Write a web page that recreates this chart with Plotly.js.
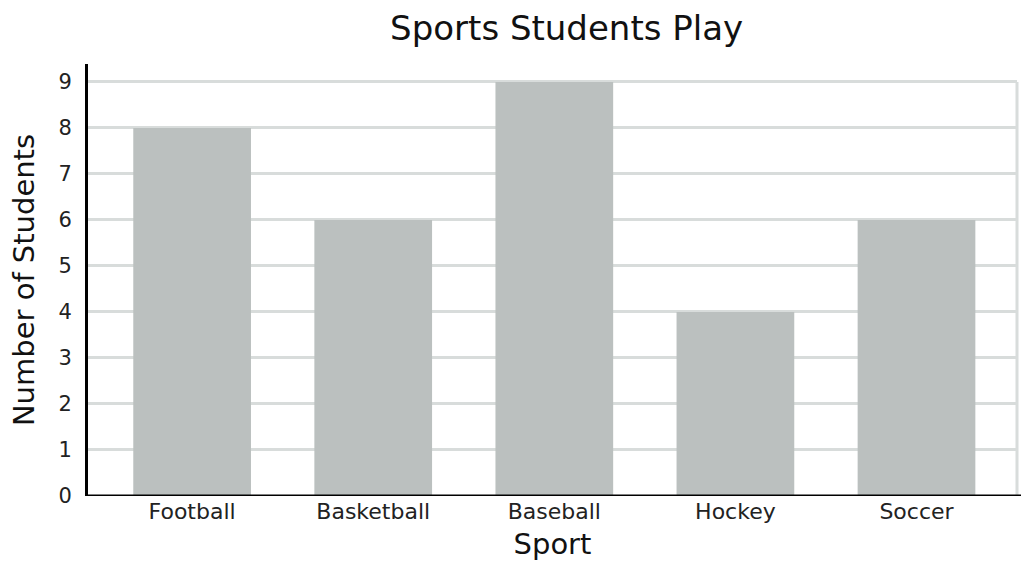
<!DOCTYPE html>
<html>
<head>
<meta charset="utf-8">
<script src="https://cdn.plot.ly/plotly-3.0.1.min.js"></script>
<style>html,body{margin:0;padding:0;background:#fff;}#chart{width:1021px;height:569px;}</style>
</head>
<body>
<div id="chart"></div>
<script>
const categories = ["Football", "Basketball", "Baseball", "Hockey", "Soccer"];
const students = [8, 6, 9, 4, 6];
const yTicks = [0, 1, 2, 3, 4, 5, 6, 7, 8, 9];

const FONT = "DejaVu Sans, sans-serif";

const data = [{
  type: "bar",
  x: categories,
  y: students,
  marker: {color: "#bbc0bf"},
  width: 0.65,
  hoverinfo: "x+y"
}];

const layout = {
  width: 1021,
  height: 569,
  margin: {l: 88, r: 4, t: 64, b: 73},
  paper_bgcolor: "#ffffff",
  plot_bgcolor: "#ffffff",
  showlegend: false,
  title: {
    text: "Sports Students Play",
    font: {family: FONT, size: 34, color: "#111111"},
    x: 0.555, xanchor: "center",
    y: 0.95, yanchor: "middle"
  },
  xaxis: {
    range: [-0.575, 4.555],
    showgrid: false,
    zeroline: false,
    showline: false,
    ticks: "",
    tickfont: {family: FONT, size: 22, color: "#222222"},
    title: {text: "Sport", font: {family: FONT, size: 29, color: "#111111"}, standoff: 10},
    fixedrange: true
  },
  yaxis: {
    range: [0, 9.39],
    tickvals: yTicks,
    ticktext: yTicks.map(String),
    showgrid: true,
    gridcolor: "#d8dcdb",
    gridwidth: 3,
    zeroline: false,
    showline: true,
    linecolor: "#000000",
    linewidth: 3,
    ticks: "",
    ticklabelstandoff: 9,
    tickfont: {family: FONT, size: 21, color: "#222222"},
    title: {text: "Number of Students", font: {family: FONT, size: 29, color: "#111111"}, standoff: 16},
    fixedrange: true
  },
  shapes: [
    {type: "line", xref: "paper", yref: "y", x0: 1, x1: 1, y0: 0, y1: 9,
     line: {color: "#d8dcdb", width: 3}},
    {type: "line", xref: "paper", yref: "y", x0: -0.002, x1: 1.005, y0: 0, y1: 0,
     line: {color: "#000000", width: 3}}
  ]
};

Plotly.newPlot("chart", data, layout, {displayModeBar: false, staticPlot: true});
</script>
</body>
</html>
